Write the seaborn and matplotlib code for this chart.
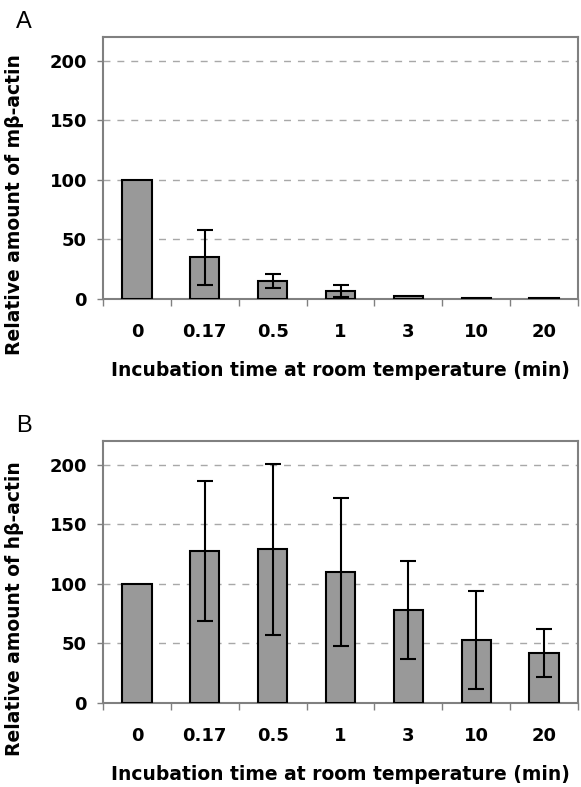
import numpy as np
import matplotlib
matplotlib.use('Agg')
import matplotlib.pyplot as plt
import seaborn as sns

# -------------------------------------------------------
# Data
# -------------------------------------------------------
times = ['0', '0.17', '0.5', '1', '3', '10', '20']

m_actin = [100, 35, 15, 7, 2.5, 0.6, 0.6]
m_actin_err = [0, 23, 6, 5, 0, 0, 0]

h_actin = [100, 127.5, 129, 110, 78, 53, 42]
h_actin_err = [0, 59, 72, 62, 41, 41, 20]

panel_letters = ['A', 'B']
ylabels = ['Relative amount of m\u03b2-actin', 'Relative amount of h\u03b2-actin']
xlabel = 'Incubation time at room temperature (min)'
yticks = [0, 50, 100, 150, 200]

# -------------------------------------------------------
# Style
# -------------------------------------------------------
sns.set_style('white')
plt.rcParams['font.family'] = ['DejaVu Sans']
plt.rcParams['text.color'] = 'black'
plt.rcParams['axes.labelcolor'] = 'black'
plt.rcParams['xtick.labelcolor'] = 'black'
plt.rcParams['ytick.labelcolor'] = 'black'

W, H = 581, 787
fig = plt.figure(figsize=(W / 100, H / 100), dpi=100)

frame_col = '#808080'
bar_col = '#999999'
label_font = dict(family='DejaVu Sans', fontweight='bold')

panels = [(m_actin, m_actin_err, 37, 299), (h_actin, h_actin_err, 441, 703)]

for i, (vals, errs, top, bottom) in enumerate(panels):
    ax = fig.add_axes([103 / W, 1 - bottom / H, 475 / W, (bottom - top) / H])
    sns.barplot(x=times, y=vals, order=times, color=bar_col, saturation=1,
                edgecolor='black', linewidth=1.5, width=0.43, ax=ax, zorder=3)

    # error bars only where they exist
    idx = [k for k, e in enumerate(errs) if e > 0]
    ax.errorbar(idx, [vals[k] for k in idx], yerr=[errs[k] for k in idx],
                fmt='none', ecolor='black', elinewidth=1.5, capsize=6,
                capthick=1.5, zorder=4)

    ax.set_xlim(-0.5, 6.5)
    ax.set_ylim(0, 220)
    ax.set_yticks(yticks)
    ax.set_axisbelow(True)
    ax.yaxis.grid(True, linestyle=(0, (5, 5)), color='#a8a8a8', linewidth=1)
    ax.xaxis.grid(False)

    for sp in ax.spines.values():
        sp.set_visible(True)
        sp.set_color(frame_col)
        sp.set_linewidth(1.5)

    # category boundary ticks
    ax.set_xticks(np.arange(-0.5, 7, 1), minor=True)
    ax.tick_params(axis='x', which='minor', length=5, width=1, color=frame_col,
                   direction='out', bottom=True)
    ax.tick_params(axis='x', which='major', length=0, pad=17, labelsize=13)
    ax.tick_params(axis='y', which='major', length=4.5, width=1, color=frame_col,
                   direction='out', left=True, pad=7, labelsize=13)
    for lbl in ax.get_xticklabels() + ax.get_yticklabels():
        lbl.set_fontweight('bold')

    ax.set_xlabel(xlabel, fontsize=13.5, labelpad=15, **label_font)
    ax.set_ylabel(ylabels[i], fontsize=13.5, **label_font)
    ax.yaxis.set_label_coords(-0.166, 0.36)

    fig.text(24 / W, 1 - (top - 15) / H, panel_letters[i], fontsize=17,
             family='Liberation Sans', ha='center', va='center')

fig.savefig('out.png', dpi=100)
plt.close(fig)
print('Saved: out.png')
